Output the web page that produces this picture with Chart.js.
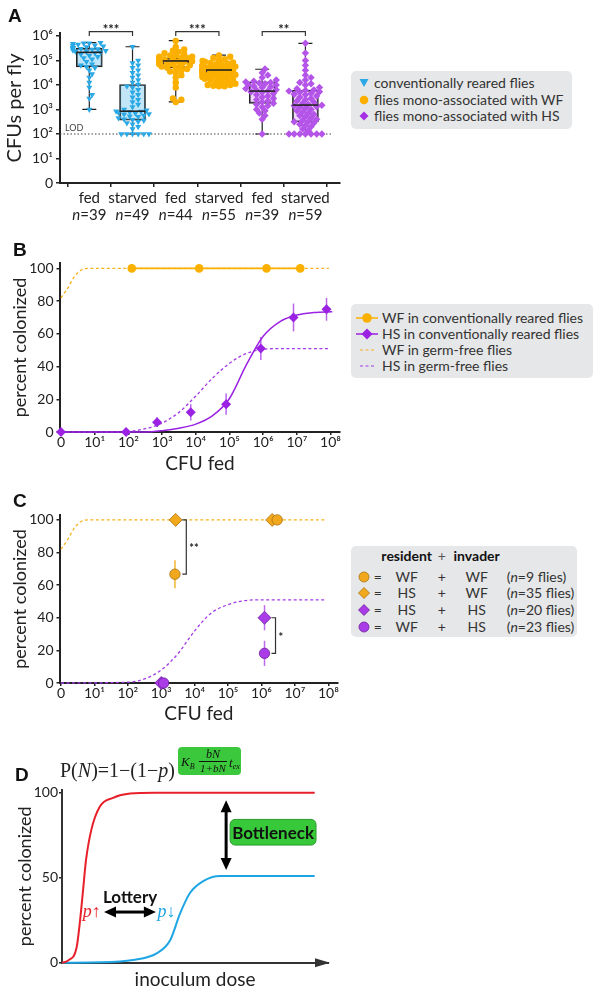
<!DOCTYPE html>
<html lang="en">
<head>
<meta charset="UTF-8">
<title>Fly gut colonization</title>
<script src="https://cdn.jsdelivr.net/npm/chart.js"></script>
<style>
  html, body { margin: 0; padding: 0; background: #fff; }
  #fig { position: relative; width: 601px; height: 994px; overflow: hidden; font-family: Lato, "Open Sans", sans-serif; color: #333; }
  #fig canvas { position: absolute; left: 0; }
  .panel { position: absolute; font: bold 19px "Liberation Sans", Arial, sans-serif; color: #111; line-height: 1; }
  .legend { position: absolute; background: #e6e7e8; border-radius: 5px; font-size: 14px; color: #333; }
  .legend .t { position: absolute; white-space: nowrap; line-height: 16px; }
  .legend svg { position: absolute; }
  .legend .c { text-align: center; width: 60px; }
</style>
</head>
<body>
<div id="fig">
  <canvas id="chartA" width="345" height="228" style="top:0;width:345px;height:228px"></canvas>
  <canvas id="chartB" width="345" height="250" style="top:230px;width:345px;height:250px"></canvas>
  <canvas id="chartC" width="345" height="250" style="top:480px;width:345px;height:250px"></canvas>
  <canvas id="chartD" width="345" height="259" style="top:735px;width:345px;height:259px"></canvas>

  <div class="panel" style="left:8px;top:5.5px">A</div>
  <div class="panel" style="left:13px;top:239.5px">B</div>
  <div class="panel" style="left:13px;top:490.5px">C</div>
  <div class="panel" style="left:15px;top:764.5px">D</div>

  <!-- legend A -->
  <div class="legend" style="left:351px;top:71px;width:221px;height:58px">
    <svg style="left:8px;top:7px" width="10" height="10"><polygon points="0.5,1 9.5,1 5,9" fill="#2aa9e6"/></svg>
    <span class="t" style="left:23px;top:4px">conventionally reared flies</span>
    <svg style="left:8px;top:23.7px" width="10" height="10"><circle cx="5" cy="5" r="4.3" fill="#fbb000"/></svg>
    <span class="t" style="left:23px;top:20.7px">flies mono-associated with WF</span>
    <svg style="left:8px;top:40.3px" width="10" height="10"><polygon points="5,0.5 9.5,5 5,9.5 0.5,5" fill="#a62ee6"/></svg>
    <span class="t" style="left:23px;top:37.3px">flies mono-associated with HS</span>
  </div>

  <!-- legend B -->
  <div class="legend" style="left:351px;top:304px;width:242px;height:74px">
    <svg style="left:4px;top:8px" width="24" height="12"><line x1="1" y1="6" x2="23" y2="6" stroke="#fbb000" stroke-width="1.5"/><circle cx="12" cy="6" r="4.8" fill="#fbb000"/></svg>
    <span class="t" style="left:31px;top:6px">WF in conventionally reared flies</span>
    <svg style="left:4px;top:24px" width="24" height="12"><line x1="1" y1="6" x2="23" y2="6" stroke="#9b22e3" stroke-width="1.5"/><polygon points="12,0.5 17.5,6 12,11.5 6.5,6" fill="#9b22e3"/></svg>
    <span class="t" style="left:31px;top:22px">HS in conventionally reared flies</span>
    <svg style="left:4px;top:40px" width="24" height="12"><line x1="5" y1="6" x2="20" y2="6" stroke="#f7b21e" stroke-width="1.2" stroke-dasharray="3,2.5"/></svg>
    <span class="t" style="left:31px;top:38px">WF in germ-free flies</span>
    <svg style="left:4px;top:56px" width="24" height="12"><line x1="5" y1="6" x2="20" y2="6" stroke="#a33ae8" stroke-width="1.2" stroke-dasharray="3,2.5"/></svg>
    <span class="t" style="left:31px;top:54px">HS in germ-free flies</span>
  </div>

  <!-- legend C -->
  <div class="legend" style="left:351px;top:546px;width:226px;height:91px;font-size:14px">
    <span class="t c" style="left:25.7px;top:2px;font-weight:bold;color:#111">resident</span>
    <span class="t c" style="left:60.7px;top:2px;color:#555">+</span>
    <span class="t c" style="left:95.7px;top:2px;font-weight:bold;color:#111">invader</span>

    <svg style="left:7px;top:24.7px" width="12" height="12"><circle cx="6" cy="6" r="5" fill="#f2a81d" stroke="#a87410" stroke-width="0.8"/></svg>
    <span class="t c" style="left:-3.3px;top:22.7px">=</span>
    <span class="t c" style="left:25.7px;top:22.7px">WF</span>
    <span class="t c" style="left:60.7px;top:22.7px">+</span>
    <span class="t c" style="left:95.7px;top:22.7px">WF</span>
    <span class="t" style="left:155.7px;top:22.7px">(<i>n</i>=9 flies)</span>

    <svg style="left:7px;top:41.3px" width="12" height="12"><polygon points="6,0.5 11.5,6 6,11.5 0.5,6" fill="#f2a81d" stroke="#a87410" stroke-width="0.8"/></svg>
    <span class="t c" style="left:-3.3px;top:39.3px">=</span>
    <span class="t c" style="left:25.7px;top:39.3px">HS</span>
    <span class="t c" style="left:60.7px;top:39.3px">+</span>
    <span class="t c" style="left:95.7px;top:39.3px">WF</span>
    <span class="t" style="left:155.7px;top:39.3px">(<i>n</i>=35 flies)</span>

    <svg style="left:7px;top:58px" width="12" height="12"><polygon points="6,0.5 11.5,6 6,11.5 0.5,6" fill="#a93ce6" stroke="#6e1fa0" stroke-width="0.8"/></svg>
    <span class="t c" style="left:-3.3px;top:56px">=</span>
    <span class="t c" style="left:25.7px;top:56px">HS</span>
    <span class="t c" style="left:60.7px;top:56px">+</span>
    <span class="t c" style="left:95.7px;top:56px">HS</span>
    <span class="t" style="left:155.7px;top:56px">(<i>n</i>=20 flies)</span>

    <svg style="left:7px;top:74.7px" width="12" height="12"><circle cx="6" cy="6" r="5" fill="#a93ce6" stroke="#6e1fa0" stroke-width="0.8"/></svg>
    <span class="t c" style="left:-3.3px;top:72.7px">=</span>
    <span class="t c" style="left:25.7px;top:72.7px">WF</span>
    <span class="t c" style="left:60.7px;top:72.7px">+</span>
    <span class="t c" style="left:95.7px;top:72.7px">HS</span>
    <span class="t" style="left:155.7px;top:72.7px">(<i>n</i>=23 flies)</span>
  </div>

  <!-- model formula for panel D -->
  <div style="position:absolute;left:60px;top:760px;font:20px 'Liberation Serif','DejaVu Serif',serif;line-height:1;color:#222;white-space:nowrap">P(<i>N</i>)=1&minus;(1&minus;<i>p</i>)</div>
  <div style="position:absolute;left:178px;top:747px;width:63px;height:28px;background:#3cc83c;border-radius:4px;font:italic 13px 'Liberation Serif',serif;color:#111;line-height:1">
    <span style="position:absolute;left:3px;top:8px">K<span style="font-size:8px;position:relative;top:3px">B</span></span>
    <span style="position:absolute;left:19px;top:1px;width:32px;text-align:center;font-size:12px">bN</span>
    <span style="position:absolute;left:21px;top:13.5px;width:28px;border-top:0.8px solid #111"></span>
    <span style="position:absolute;left:19px;top:15.5px;width:32px;text-align:center;font-size:11px">1+bN</span>
    <span style="position:absolute;left:51px;top:9px">t<span style="font-size:8px;position:relative;top:2px">ex</span></span>
  </div>
</div>

<script>
// ---------- panel A: log10 CFUs per fly ----------
var groupsA = ['fed', 'starved', 'fed', 'starved', 'fed', 'starved'];
var nA = [39, 49, 44, 55, 39, 59];
var boxMin = [3.0, 2.0, 3.31, 3.93, 2.0, 2.0];
var boxQ1 = [4.74, 2.56, 4.70, 4.31, 3.25, 2.49];
var boxMed = [5.33, 2.93, 4.98, 4.61, 3.75, 3.18];
var boxQ3 = [5.50, 4.02, 5.09, 4.79, 4.13, 3.79];
var boxMax = [5.73, 5.56, 5.81, 5.22, 4.64, 5.70];
var convFed = [3.0, 3.45, 3.6, 3.9, 4.1, 4.3, 4.45, 4.6, 4.7, 4.74, 4.8, 4.85, 4.95, 5.05, 5.1, 5.15, 5.2, 5.25, 5.3, 5.33,
  5.35, 5.38, 5.4, 5.42, 5.45, 5.47, 5.48, 5.5, 5.5, 5.52, 5.55, 5.58, 5.6, 5.62, 5.65, 5.68, 5.7, 5.7, 5.72];
var convStarved = [2, 2, 2, 2, 2, 2, 2.2, 2.3, 2.4, 2.45, 2.5, 2.55, 2.58, 2.6, 2.65, 2.7, 2.72, 2.75, 2.8, 2.82, 2.85, 2.88, 2.9, 2.92,
  2.93, 2.97, 3.0, 3.1, 3.2, 3.3, 3.4, 3.5, 3.6, 3.7, 3.8, 3.9, 3.95, 4.02, 4.1, 4.2, 4.3, 4.4, 4.5, 4.6, 4.7, 4.8, 4.9, 5.0, 5.56];
var wfFed = [3.3, 3.4, 3.45, 3.9, 4.1, 4.3, 4.4, 4.5, 4.55, 4.6, 4.65, 4.7, 4.7, 4.75, 4.8, 4.8, 4.85, 4.85, 4.9, 4.9, 4.92, 4.95,
  4.95, 4.97, 5.0, 5.0, 5.02, 5.05, 5.05, 5.08, 5.1, 5.1, 5.12, 5.15, 5.15, 5.2, 5.2, 5.25, 5.3, 5.35, 5.4, 5.45, 5.55, 5.8];
var wfStarved = [3.95, 3.95, 3.97, 4.0, 4.0, 4.05, 4.1, 4.12, 4.15, 4.2, 4.22, 4.25, 4.28, 4.3, 4.32, 4.35, 4.35, 4.38, 4.4, 4.42,
  4.45, 4.45, 4.48, 4.5, 4.5, 4.52, 4.55, 4.55, 4.58, 4.6, 4.6, 4.62, 4.65, 4.65, 4.68, 4.7, 4.7, 4.72, 4.75, 4.75,
  4.78, 4.8, 4.8, 4.82, 4.85, 4.88, 4.9, 4.92, 4.95, 4.98, 5.0, 5.05, 5.1, 5.15, 5.2];
var hsFed = [2.0, 2.6, 2.75, 2.85, 2.95, 3.0, 3.1, 3.15, 3.2, 3.25, 3.3, 3.35, 3.4, 3.45, 3.5, 3.55, 3.6, 3.65, 3.7, 3.72,
  3.75, 3.78, 3.8, 3.85, 3.9, 3.92, 3.95, 4.0, 4.02, 4.05, 4.08, 4.1, 4.12, 4.15, 4.2, 4.3, 4.4, 4.5, 4.65];
var hsStarved = [2, 2, 2, 2, 2, 2, 2, 2.15, 2.2, 2.3, 2.35, 2.4, 2.45, 2.5, 2.5, 2.55, 2.6, 2.65, 2.7, 2.75, 2.8, 2.85, 2.9, 2.95,
  3.0, 3.05, 3.1, 3.12, 3.15, 3.17, 3.2, 3.25, 3.3, 3.35, 3.4, 3.45, 3.5, 3.55, 3.6, 3.62, 3.65, 3.7, 3.72, 3.75, 3.78,
  3.8, 3.85, 3.9, 4.0, 4.05, 4.1, 4.2, 4.3, 4.4, 4.6, 4.8, 5.0, 5.3, 5.7];
var sigA = [[0, 1, '***'], [2, 3, '***'], [4, 5, '**']];
var lodA = 2;
var yTicksA = [0, 1, 2, 3, 4, 5, 6];

// ---------- panel B: percent colonized vs log10 CFU fed ----------
var doseTicks = [0, 1, 2, 3, 4, 5, 6, 7, 8];
var wfConvX = [2.1, 4.1, 6.1, 7.1];
var wfConvY = [100, 100, 100, 100];
var hsConvX = [0, 1.93, 2.85, 3.85, 4.9, 5.93, 6.9, 7.88];
var hsConvY = [0, 0, 6, 12, 17, 51, 70, 75];
var hsConvErr = [0, 0, 3, 5, 6.5, 7, 8.5, 7];
var hsConvFitX = [0, 2.5, 3, 3.5, 4, 4.5, 5, 5.5, 6, 6.5, 7, 7.5, 8.05];
var hsConvFitY = [0, 0, 0.8, 2.3, 4.8, 10, 20.5, 41, 58.5, 67.5, 71.5, 73, 73.5];
var wfGfX = [0, 0.2, 0.4, 0.6, 0.8, 7.95];
var wfGfY = [82, 88, 95, 99, 100, 100];
var hsGfX = [0, 1.8, 2.5, 3, 3.5, 4, 4.5, 5, 5.5, 6, 6.5, 7.95];
var hsGfY = [0, 0, 2, 5.5, 12, 22, 33, 42, 48, 50.5, 51, 51];
var pctTicks = [0, 20, 40, 60, 80, 100];

// ---------- panel C: resident + invader ----------
var wfwfX = [3.41, 6.47], wfwfY = [66.7, 100], wfwfErr = [8.6, 0];
var hswfX = [3.43, 6.32], hswfY = [100, 100];
var hshsX = [3.0, 6.09], hshsY = [0, 40], hshsErr = [0, 7.7];
var wfhsX = [3.07, 6.09], wfhsY = [0, 18.2], wfhsErr = [0, 7.7];
var hsGfCX = [0, 2, 2.5, 3, 3.5, 4, 4.5, 5, 5.5, 6, 7.95];
var hsGfCY = [0, 0.5, 2.5, 8, 18, 32, 43, 48, 50.5, 51, 51];
var sigC = [[3.42, 100, 66.7, '**'], [6.09, 40, 18.2, '*']];

// ---------- panel D: model sketch ----------
var highPX = [0, 2.5, 5.5, 6.8, 8, 9, 11, 14.3, 19.2, 25.6, 35, 95];
var highPY = [0, 1.5, 9, 25, 44, 60, 78, 92, 97, 99.5, 100, 100];
var lowPX = [0, 15, 26.7, 35.6, 40.6, 44.4, 48.1, 53.1, 59.4, 70, 95];
var lowPY = [0, 0.2, 1.6, 5.5, 13, 29, 41, 48, 51, 51, 51];
var dTicks = [0, 50, 100];

var sup = ['\u2070', '\u00b9', '\u00b2', '\u00b3', '\u2074', '\u2075', '\u2076', '\u2077', '\u2078'];
function logLabel(v) { return v === 0 ? '0' : '10' + sup[v]; }
function pts(xs, ys) { return xs.map(function (x, i) { return { x: x, y: ys[i] }; }); }

// beeswarm: spread points sideways so markers do not overlap too much
function swarm(values, center) {
  var placed = [];
  values.slice().sort(function (a, b) { return a - b; }).forEach(function (v) {
    var off = 0;
    for (var k = 0; k < 13; k++) {
      off = (k % 2 ? 1 : -1) * Math.ceil(k / 2) * 0.065;
      var hit = placed.some(function (p) {
        return Math.hypot((p.x - center - off) * 43.2, (p.y - v) * 24.45) < 4.3;
      });
      if (!hit) break;
    }
    off = Math.max(-0.38, Math.min(0.38, off));
    placed.push({ x: center + off, y: v });
  });
  return placed;
}

Chart.defaults.font.family = 'Lato, "Open Sans", sans-serif';
Chart.defaults.color = '#222';
Chart.defaults.animation = false;
Chart.defaults.responsive = false;
Chart.defaults.plugins.legend.display = false;
Chart.defaults.plugins.tooltip.enabled = false;

function fixTicks(list) { return function (s) { s.ticks = list.map(function (v) { return { value: v }; }); }; }
function gridOpts(len) { return { drawOnChartArea: false, drawTicks: true, tickLength: len, color: '#222', lineWidth: 1.5 }; }
var borderOpts = { display: true, color: '#222', width: 2 };

// error bars for datasets that carry an `errors` array
var errorBars = {
  id: 'errorBars',
  beforeDatasetsDraw: function (chart) {
    var c = chart.ctx, ys = chart.scales.y;
    chart.data.datasets.forEach(function (ds, i) {
      if (!ds.errors) return;
      chart.getDatasetMeta(i).data.forEach(function (el, j) {
        var e = ds.errors[j];
        if (!e) return;
        var v = ds.data[j].y;
        c.save();
        c.strokeStyle = ds.errorColor; c.lineWidth = 1.5;
        c.beginPath();
        c.moveTo(el.x, ys.getPixelForValue(v - e));
        c.lineTo(el.x, ys.getPixelForValue(v + e));
        c.stroke();
        c.restore();
      });
    });
  }
};

// ---------- chart A ----------
var blue = '#2aa9e6', orange = '#fbb000', purpleA = '#b454e8';
var extrasA = {
  id: 'extrasA',
  beforeDatasetsDraw: function (chart) {
    var c = chart.ctx, xs = chart.scales.x, ys = chart.scales.y;
    c.save();
    var ly = ys.getPixelForValue(lodA);
    c.strokeStyle = '#444'; c.lineWidth = 1.2; c.setLineDash([1.5, 2]);
    c.beginPath(); c.moveTo(chart.chartArea.left, ly); c.lineTo(xs.getPixelForValue(5.6), ly); c.stroke();
    c.setLineDash([]);
    c.fillStyle = '#444'; c.font = '9px Lato'; c.textAlign = 'left';
    c.fillText('LOD', 65, ly - 3);
    c.strokeStyle = '#222'; c.lineWidth = 1.2;
    groupsA.forEach(function (g, i) {
      var x = xs.getPixelForValue(i);
      var y0 = ys.getPixelForValue(boxMin[i]), y1 = ys.getPixelForValue(boxQ1[i]);
      var y2 = ys.getPixelForValue(boxQ3[i]), y3 = ys.getPixelForValue(boxMax[i]);
      c.beginPath();
      c.moveTo(x, y0); c.lineTo(x, y1); c.moveTo(x, y2); c.lineTo(x, y3);
      c.moveTo(x - 7, y0); c.lineTo(x + 7, y0); c.moveTo(x - 7, y3); c.lineTo(x + 7, y3);
      c.stroke();
    });
    c.restore();
  },
  afterDatasetsDraw: function (chart) {
    var c = chart.ctx, xs = chart.scales.x, ys = chart.scales.y;
    c.save();
    c.strokeStyle = '#222'; c.lineWidth = 1.6;
    groupsA.forEach(function (g, i) {
      var x = xs.getPixelForValue(i), y = ys.getPixelForValue(boxMed[i]);
      c.beginPath(); c.moveTo(x - 13, y); c.lineTo(x + 13, y); c.stroke();
    });
    c.lineWidth = 1.2; c.strokeStyle = '#333';
    c.fillStyle = '#222'; c.textAlign = 'center';
    sigA.forEach(function (s) {
      var xa = xs.getPixelForValue(s[0]), xb = xs.getPixelForValue(s[1]), y = ys.getPixelForValue(6.18);
      c.beginPath(); c.moveTo(xa, y + 4.5); c.lineTo(xa, y); c.lineTo(xb, y); c.lineTo(xb, y + 4.5); c.stroke();
      c.font = 'bold 13px Lato';
      c.fillText(s[2], (xa + xb) / 2, y + 2.5);
    });
    // sample sizes under the category names
    c.textBaseline = 'middle';
    nA.forEach(function (n, i) {
      var x = xs.getPixelForValue(i);
      c.font = 'italic 15px Lato';
      var w1 = c.measureText('n').width;
      c.font = '15px Lato';
      var rest = '=' + n, w2 = c.measureText(rest).width;
      var left = x - (w1 + w2) / 2;
      c.textAlign = 'left';
      c.font = 'italic 15px Lato'; c.fillText('n', left, 215);
      c.font = '15px Lato'; c.fillText(rest, left + w1, 215);
    });
    c.restore();
  }
};

new Chart(document.getElementById('chartA'), {
  type: 'scatter',
  data: {
    datasets: [
      {
        type: 'bar', order: 5,
        data: groupsA.map(function (g, i) { return { x: i, y: [boxQ1[i], boxQ3[i]] }; }),
        backgroundColor: ['rgba(120,200,240,0.45)', 'rgba(120,200,240,0.45)', 'rgba(255,215,130,0.35)',
          'rgba(255,215,130,0.35)', 'rgba(210,160,240,0.4)', 'rgba(210,160,240,0.4)'],
        borderColor: '#222', borderWidth: 1.2, borderSkipped: false, barThickness: 26
      },
      { data: swarm(convFed, 0).concat(swarm(convStarved, 1)), pointStyle: 'triangle', rotation: 180,
        pointRadius: 3.5, backgroundColor: blue, borderWidth: 0, order: 1, clip: false },
      { data: swarm(wfFed, 2).concat(swarm(wfStarved, 3)), pointStyle: 'circle',
        pointRadius: 3.2, backgroundColor: orange, borderWidth: 0, order: 1, clip: false },
      { data: swarm(hsFed, 4).concat(swarm(hsStarved, 5)), pointStyle: 'rectRot',
        pointRadius: 3.7, backgroundColor: purpleA, borderWidth: 0, order: 1, clip: false }
    ]
  },
  options: {
    layout: { padding: { left: 0, right: 5, top: 33, bottom: 0 } },
    scales: {
      x: {
        type: 'linear', min: -0.678, max: 5.8, offset: false,
        afterBuildTicks: fixTicks([0, 1, 2, 3, 4, 5]),
        afterFit: function (s) { s.height = 45; },
        grid: gridOpts(4), border: borderOpts,
        ticks: { font: { size: 15 }, padding: 2, maxRotation: 0, autoSkip: false,
          callback: function (v) { return groupsA[v]; } }
      },
      y: {
        type: 'linear', min: 0, max: 6.12,
        afterBuildTicks: fixTicks(yTicksA),
        afterFit: function (s) { s.width = 60; },
        grid: gridOpts(4), border: borderOpts,
        ticks: { font: { size: 14 }, padding: 3, callback: function (v) { return logLabel(v); } },
        title: { display: true, text: 'CFUs per fly', font: { size: 20 }, padding: { top: 3, bottom: 0 } }
      }
    }
  },
  plugins: [extrasA]
});

// ---------- chart B ----------
var purple = '#9b22e3';
function doseAxis() {
  return {
    type: 'linear', min: -0.03, max: 8.28, offset: false,
    afterBuildTicks: fixTicks(doseTicks),
    afterFit: function (s) { s.height = 48; },
    grid: gridOpts(3), border: borderOpts,
    ticks: { font: { size: 14 }, padding: -1, maxRotation: 0, autoSkip: false, callback: function (v) { return logLabel(v); } },
    title: { display: true, text: 'CFU fed', font: { size: 19 }, padding: { top: 0, bottom: 5 } }
  };
}
function pctAxis(max) {
  return {
    type: 'linear', min: 0, max: max,
    afterBuildTicks: fixTicks(pctTicks),
    afterFit: function (s) { s.width = 60; },
    grid: gridOpts(3.5), border: borderOpts,
    ticks: { font: { size: 14 }, padding: 3 },
    title: { display: true, text: 'percent colonized', font: { size: 18 }, padding: { top: 9, bottom: 0 } }
  };
}

new Chart(document.getElementById('chartB'), {
  type: 'scatter',
  data: {
    datasets: [
      { type: 'line', data: pts(hsGfX, hsGfY), borderColor: '#a33ae8', borderWidth: 1.3, borderDash: [3, 2.5],
        pointRadius: 0, cubicInterpolationMode: 'monotone', order: 6, clip: false },
      { type: 'line', data: pts(wfGfX, wfGfY), borderColor: '#f7b21e', borderWidth: 1.3, borderDash: [3, 2.5],
        pointRadius: 0, cubicInterpolationMode: 'monotone', order: 6, clip: false },
      { type: 'line', data: pts(hsConvFitX, hsConvFitY), borderColor: purple, borderWidth: 1.5,
        pointRadius: 0, cubicInterpolationMode: 'monotone', order: 4, clip: false },
      { type: 'line', data: pts(wfConvX, wfConvY), borderColor: orange, borderWidth: 1.6,
        pointRadius: 4.3, pointBackgroundColor: orange, pointBorderWidth: 0, order: 2, clip: false },
      { data: pts(hsConvX, hsConvY), pointStyle: 'rectRot', pointRadius: 5, backgroundColor: purple, borderWidth: 0,
        errors: hsConvErr, errorColor: 'rgba(160,50,230,0.75)', order: 1, clip: false }
    ]
  },
  options: {
    layout: { padding: { left: 0, right: 5, top: 33, bottom: 0 } },
    scales: { x: doseAxis(), y: pctAxis(103.3) }
  },
  plugins: [errorBars]
});

// ---------- chart C ----------
var orangeC = '#f2a81d', orangeEdge = '#a87410', purpleC = '#a93ce6', purpleEdge = '#6e1fa0';
var bracketsC = {
  id: 'bracketsC',
  afterDatasetsDraw: function (chart) {
    var c = chart.ctx, xs = chart.scales.x, ys = chart.scales.y;
    c.save();
    c.strokeStyle = '#333'; c.lineWidth = 1.2; c.fillStyle = '#222';
    c.font = 'bold 11px Lato'; c.textAlign = 'left'; c.textBaseline = 'alphabetic';
    sigC.forEach(function (s) {
      var x = xs.getPixelForValue(s[0]) + 11, ya = ys.getPixelForValue(s[1]), yb = ys.getPixelForValue(s[2]);
      c.beginPath(); c.moveTo(x - 4, ya); c.lineTo(x, ya); c.lineTo(x, yb); c.lineTo(x - 4, yb); c.stroke();
      c.fillText(s[3], x + 3, (ya + yb) / 2 + 5);
    });
    c.restore();
  }
};

new Chart(document.getElementById('chartC'), {
  type: 'scatter',
  data: {
    datasets: [
      { type: 'line', data: pts(hsGfCX, hsGfCY), borderColor: '#a33ae8', borderWidth: 1.3, borderDash: [3, 2.5],
        pointRadius: 0, cubicInterpolationMode: 'monotone', order: 6, clip: false },
      { type: 'line', data: pts(wfGfX, wfGfY), borderColor: '#f7b21e', borderWidth: 1.3, borderDash: [3, 2.5],
        pointRadius: 0, cubicInterpolationMode: 'monotone', order: 6, clip: false },
      { data: pts(hswfX, hswfY), pointStyle: 'rectRot', pointRadius: 6.5, backgroundColor: orangeC,
        borderColor: orangeEdge, borderWidth: 0.8, order: 3, clip: false },
      { data: pts(wfwfX, wfwfY), pointStyle: 'circle', pointRadius: 5.2, backgroundColor: orangeC,
        borderColor: orangeEdge, borderWidth: 0.8, errors: wfwfErr, errorColor: '#f2b531', order: 2, clip: false },
      { data: pts(hshsX, hshsY), pointStyle: 'rectRot', pointRadius: 6.5, backgroundColor: purpleC,
        borderColor: purpleEdge, borderWidth: 0.8, errors: hshsErr, errorColor: 'rgba(170,70,230,0.8)', order: 3, clip: false },
      { data: pts(wfhsX, wfhsY), pointStyle: 'circle', pointRadius: 5.2, backgroundColor: purpleC,
        borderColor: purpleEdge, borderWidth: 0.8, errors: wfhsErr, errorColor: 'rgba(170,70,230,0.8)', order: 2, clip: false }
    ]
  },
  options: {
    layout: { padding: { left: 0, right: 5, top: 35, bottom: 0 } },
    scales: { x: Object.assign(doseAxis(), { afterFit: function (s) { s.height = 47; } }), y: pctAxis(103) }
  },
  plugins: [errorBars, bracketsC]
});

// ---------- chart D ----------
function arrowHead(c, x, y, dx, dy, len, half) {
  var px = -dy, py = dx;
  c.beginPath();
  c.moveTo(x, y);
  c.lineTo(x - dx * len + px * half, y - dy * len + py * half);
  c.lineTo(x - dx * len - px * half, y - dy * len - py * half);
  c.closePath(); c.fill();
}
var sketchD = {
  id: 'sketchD',
  afterDraw: function (chart) {
    var c = chart.ctx, xs = chart.scales.x, ys = chart.scales.y, a = chart.chartArea;
    c.save();
    c.fillStyle = '#333';
    arrowHead(c, a.right + 2, a.bottom, 1, 0, 15, 4.5);
    c.fillStyle = '#000'; c.strokeStyle = '#000'; c.lineWidth = 3;
    // bottleneck arrow
    var bx = xs.getPixelForValue(61.7), bt = ys.getPixelForValue(95.5), bb = ys.getPixelForValue(54.5);
    c.beginPath(); c.moveTo(bx, bt + 10); c.lineTo(bx, bb - 10); c.stroke();
    arrowHead(c, bx, bt, 0, -1, 12, 5.5);
    arrowHead(c, bx, bb, 0, 1, 12, 5.5);
    // lottery arrow
    var lx0 = xs.getPixelForValue(15.8), lx1 = xs.getPixelForValue(35.3), ly = ys.getPixelForValue(29.8);
    c.beginPath(); c.moveTo(lx0 + 10, ly); c.lineTo(lx1 - 10, ly); c.stroke();
    arrowHead(c, lx0, ly, -1, 0, 12, 5.5);
    arrowHead(c, lx1, ly, 1, 0, 12, 5.5);
    // bottleneck label
    var gx0 = xs.getPixelForValue(63.2), gx1 = xs.getPixelForValue(95.5);
    var gy0 = ys.getPixelForValue(84.3), gy1 = ys.getPixelForValue(69.2);
    c.fillStyle = '#38c93a'; c.strokeStyle = '#2a9a2c'; c.lineWidth = 1;
    c.beginPath(); c.roundRect(gx0, gy0, gx1 - gx0, gy1 - gy0, 5); c.fill(); c.stroke();
    c.fillStyle = '#111'; c.font = 'bold 17px Lato'; c.textAlign = 'center'; c.textBaseline = 'middle';
    c.fillText('Bottleneck', (gx0 + gx1) / 2, (gy0 + gy1) / 2 + 1);
    c.fillText('Lottery', xs.getPixelForValue(25.6), ys.getPixelForValue(38.6));
    // p arrows
    c.font = 'italic 18px "Liberation Serif", serif';
    c.fillStyle = '#e8202a';
    c.fillText('p\u2191', xs.getPixelForValue(11.2), ly);
    c.fillStyle = '#1ea6e4';
    c.fillText('p\u2193', xs.getPixelForValue(39.3), ly);
    c.restore();
  }
};

new Chart(document.getElementById('chartD'), {
  type: 'line',
  data: {
    datasets: [
      { data: pts(highPX, highPY), borderColor: '#e8202a', borderWidth: 2, pointRadius: 0, cubicInterpolationMode: 'monotone', clip: false },
      { data: pts(lowPX, lowPY), borderColor: '#1ea6e4', borderWidth: 2, pointRadius: 0, cubicInterpolationMode: 'monotone', clip: false }
    ]
  },
  options: {
    layout: { padding: { left: 0, right: 17, top: 55, bottom: 0 } },
    scales: {
      x: {
        type: 'linear', min: 0, max: 100, offset: false,
        afterFit: function (s) { s.height = 31.3; },
        grid: { drawOnChartArea: false, drawTicks: false, color: '#333' }, border: { display: true, color: '#333', width: 2 },
        ticks: { display: false },
        title: { display: true, text: 'inoculum dose', font: { size: 19 }, padding: { top: 0, bottom: 2.5 } }
      },
      y: {
        type: 'linear', min: 0, max: 101.6,
        afterBuildTicks: fixTicks(dTicks),
        afterFit: function (s) { s.width = 62; },
        grid: gridOpts(3), border: { display: true, color: '#333', width: 2 },
        ticks: { font: { size: 14 }, padding: 1 },
        title: { display: true, text: 'percent colonized', font: { size: 18 }, padding: { top: 14, bottom: 0 } }
      }
    }
  },
  plugins: [sketchD]
});
</script>
</body>
</html>
